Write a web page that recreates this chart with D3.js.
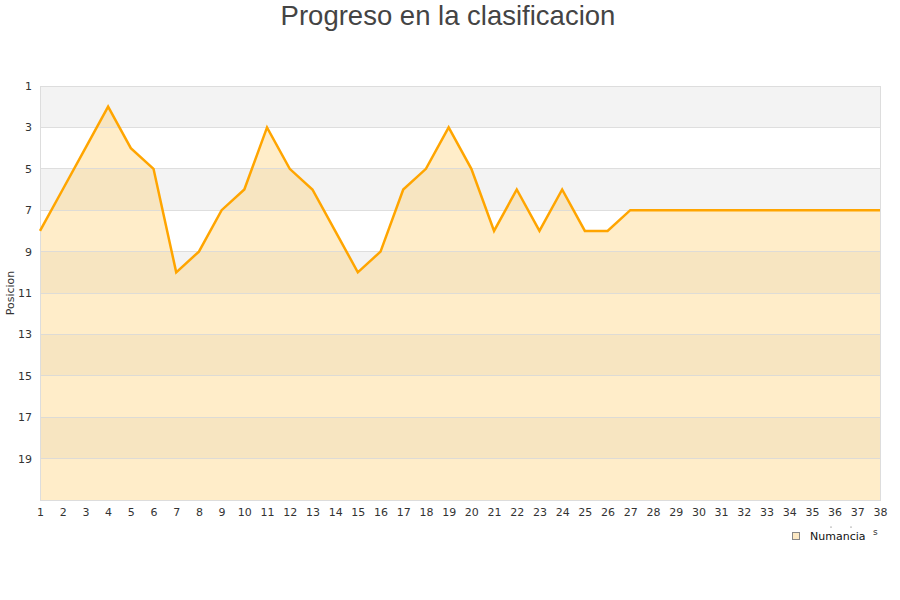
<!DOCTYPE html>
<html><head><meta charset="utf-8">
<script src="https://cdn.jsdelivr.net/npm/d3@7"></script>
<style>body{margin:0;background:#fff;}</style>
</head><body>
<svg id="c" width="900" height="600"></svg>
<script>
const jornadas = d3.range(1, 39);
const posiciones = [8,6,4,2,4,5,10,9,7,6,3,5,6,8,10,9,6,5,3,5,8,6,8,6,8,8,7,7,7,7,7,7,7,7,7,7,7,7];
const yTicks = [1,3,5,7,9,11,13,15,17,19];
const title = "Progreso en la clasificacion";
const seriesName = "Numancia";
const yTitle = "Posicion";

const svg = d3.select("#c");
const L = 40, R = 880, T = 86, B = 500;
const x = d3.scaleLinear().domain([1, 38]).range([L, R]);
const y = d3.scaleLinear().domain([1, 21]).range([T, B]);

// bands (2 positions each)
const bands = d3.range(1, 21, 2);
svg.append("g").selectAll("rect").data(bands).join("rect")
  .attr("x", L).attr("width", R - L)
  .attr("y", d => y(d)).attr("height", d => y(d + 2) - y(d))
  .attr("fill", (d, i) => i % 2 === 0 ? "#f3f3f3" : "#ffffff");

// area
const data = jornadas.map((j, i) => ({j, p: posiciones[i]}));
svg.append("path").datum(data)
  .attr("d", d3.area().x(d => x(d.j)).y0(B).y1(d => y(d.p)))
  .attr("fill", "rgb(255,200,90)").attr("fill-opacity", 0.33);

// grid lines
svg.append("g").selectAll("line").data(yTicks.slice(1)).join("line")
  .attr("x1", L).attr("x2", R).attr("y1", d => y(d)).attr("y2", d => y(d))
  .attr("stroke", "#d8d8d8").attr("stroke-opacity", 0.85).attr("stroke-width", 1).attr("shape-rendering", "crispEdges");

// border
svg.append("rect").attr("x", L).attr("y", T).attr("width", R - L).attr("height", B - T)
  .attr("fill", "none").attr("stroke", "#ddd").attr("shape-rendering", "crispEdges");

// line
svg.append("path").datum(data)
  .attr("d", d3.line().x(d => x(d.j)).y(d => y(d.p)))
  .attr("fill", "none").attr("stroke", "#ffa500").attr("stroke-width", 2.5).attr("stroke-linejoin", "miter");

// y axis labels
const yAxis = d3.axisLeft(y).tickValues(yTicks).tickSize(0).tickPadding(8);
const gy = svg.append("g").attr("transform", `translate(${L},0)`).call(yAxis);
gy.select(".domain").remove();
gy.selectAll("text").attr("font-family", "DejaVu Sans").attr("font-size", 11).attr("fill", "#333");

// x axis labels
const xAxis = d3.axisBottom(x).tickValues(jornadas).tickSize(0).tickPadding(8).tickFormat(d3.format("d"));
const gx = svg.append("g").attr("transform", `translate(0,${B})`).call(xAxis);
gx.select(".domain").remove();
gx.selectAll("text").attr("font-family", "DejaVu Sans").attr("font-size", 11).attr("fill", "#333");

// title
svg.append("text").attr("x", 448).attr("y", 25).attr("text-anchor", "middle")
  .attr("font-family", "Liberation Sans, Arial, sans-serif").attr("font-size", 27.5).attr("fill", "#444")
  .text(title);

// y title
svg.append("text").attr("transform", `translate(14,${293}) rotate(-90)`).attr("text-anchor", "middle")
  .attr("font-family", "DejaVu Sans").attr("font-size", 11).attr("fill", "#333").text(yTitle);

// legend
svg.append("rect").attr("x", 792.5).attr("y", 532.5).attr("width", 7).attr("height", 7)
  .attr("fill", "#fde9c4").attr("stroke", "#888").attr("stroke-width", 1);
svg.append("text").attr("x", 810).attr("y", 540)
  .attr("font-family", "DejaVu Sans").attr("font-size", 11).attr("fill", "#111").text(seriesName);

// clipped x-axis title remnant
svg.append("text").attr("x", 873).attr("y", 535)
  .attr("font-family", "DejaVu Sans").attr("font-size", 9).attr("fill", "#333").text("s");
svg.append("g").selectAll("circle").data([831, 851]).join("circle")
  .attr("cx", d => d).attr("cy", 527).attr("r", 0.6).attr("fill", "#555");
</script>
</body></html>
